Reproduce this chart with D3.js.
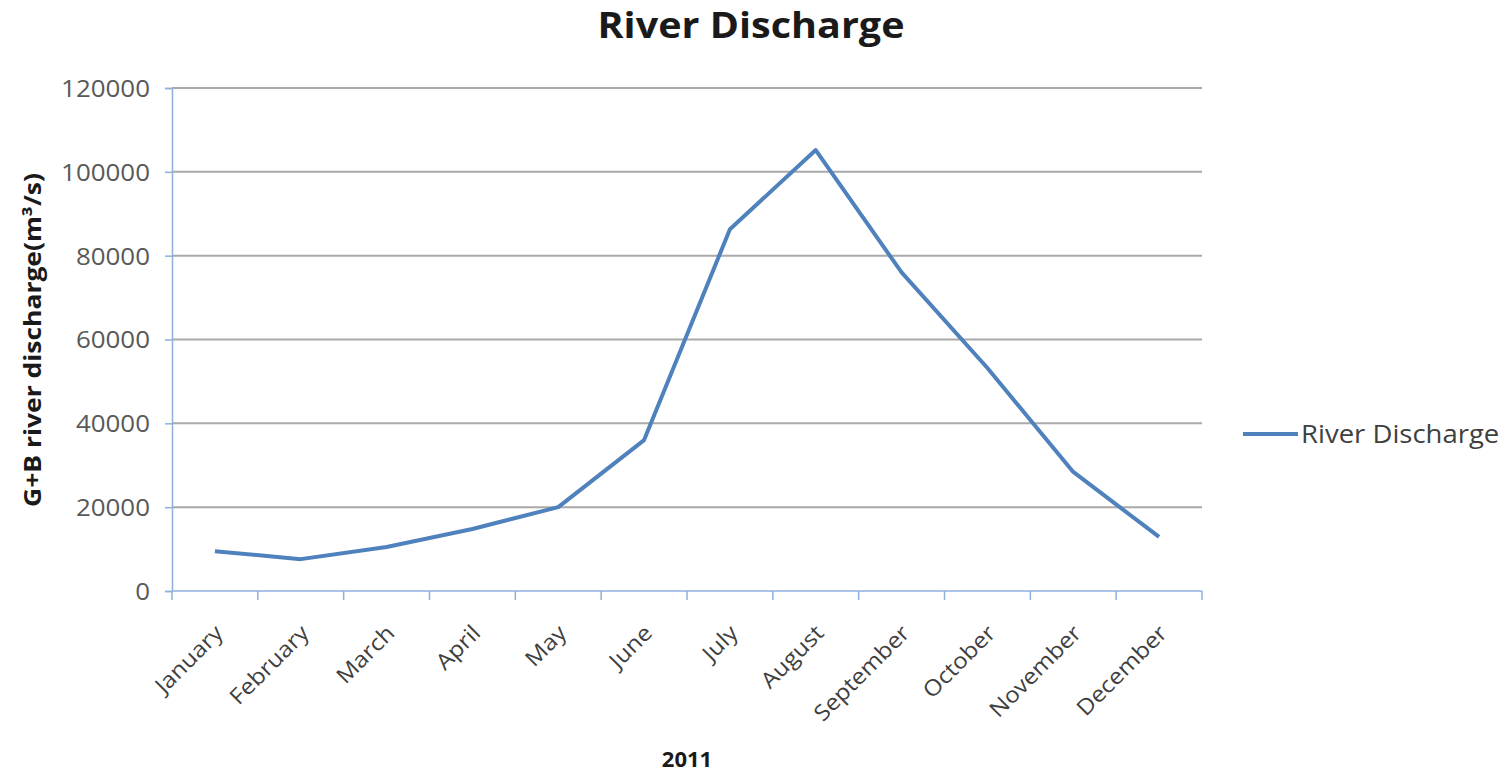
<!DOCTYPE html>
<html>
<head>
<meta charset="utf-8">
<script src="https://cdn.jsdelivr.net/npm/d3@7"></script>
<style>
  html, body { margin: 0; padding: 0; background: #ffffff; }
  svg { display: block; }
  text { font-family: "Open Sans", "Noto Sans", sans-serif; }
</style>
</head>
<body>
<svg id="chart" width="1511" height="772"></svg>
<script>
// Monthly river discharge, 2011 (m³/s)
const months = ["January", "February", "March", "April", "May", "June",
                "July", "August", "September", "October", "November", "December"];
const discharge = [9500, 7600, 10500, 14800, 20000, 36000,
                   86300, 105200, 76000, 53200, 28400, 12900];
const yTicks = [0, 20000, 40000, 60000, 80000, 100000, 120000];
const seriesName = "River Discharge";
const chartTitle = "River Discharge";
const yTitle = "G+B river discharge(m³/s)";
const xTitle = "2011";

const svg = d3.select("#chart");
const plot = { left: 172, right: 1202, top: 88, bottom: 591 };

const x = d3.scaleBand().domain(months).range([plot.left, plot.right]);
const y = d3.scaleLinear().domain([0, 120000]).range([plot.bottom, plot.top]);

const lineColor = "#4f81bd";
const axisColor = "#8eb0dc";
const gridColor = "#a9a9a9";
const labelColor = "#595959";

// horizontal gridlines
svg.append("g")
  .selectAll("line")
  .data(yTicks.filter(d => d > 0))
  .join("line")
  .attr("x1", plot.left).attr("x2", plot.right)
  .attr("y1", d => y(d)).attr("y2", d => y(d))
  .attr("stroke", gridColor).attr("stroke-width", 2);

// y axis
const yAxis = svg.append("g")
  .attr("transform", `translate(${plot.left},0)`)
  .call(d3.axisLeft(y).tickValues(yTicks).tickSize(7).tickPadding(0).tickFormat(d3.format("d")));
yAxis.select(".domain").attr("stroke", axisColor).attr("stroke-width", 1.5);
yAxis.selectAll(".tick line").attr("stroke", axisColor).attr("stroke-width", 1.5);
yAxis.selectAll(".tick text")
  .attr("x", null)
  .attr("transform", "translate(-22,0) scale(1.08,1)")
  .attr("fill", labelColor)
  .style("font-size", "24px")
  .attr("dy", "0.35em");

// x axis: ticks on category boundaries
const xAxisG = svg.append("g").attr("transform", `translate(0,${plot.bottom})`);
xAxisG.append("line")
  .attr("x1", plot.left).attr("x2", plot.right)
  .attr("stroke", axisColor).attr("stroke-width", 1.5);
const boundaries = months.map(m => x(m)).concat([plot.right]);
xAxisG.selectAll("line.tick")
  .data(boundaries)
  .join("line")
  .attr("class", "tick")
  .attr("x1", d => d).attr("x2", d => d)
  .attr("y1", 0).attr("y2", 9)
  .attr("stroke", axisColor).attr("stroke-width", 1.5);
xAxisG.selectAll("text.month")
  .data(months)
  .join("text")
  .attr("class", "month")
  .attr("transform", d => `translate(${x(d) + x.bandwidth() / 2 + 4},${38}) rotate(-45) scale(1.1,1)`)
  .attr("text-anchor", "end")
  .attr("dy", "0.35em")
  .attr("fill", "#404040")
  .style("font-size", "22px")
  .text(d => d);

// data line
const line = d3.line()
  .x((d, i) => x(months[i]) + x.bandwidth() / 2)
  .y(d => y(d));
svg.append("path")
  .datum(discharge)
  .attr("d", line)
  .attr("fill", "none")
  .attr("stroke", lineColor)
  .attr("stroke-width", 4)
  .attr("stroke-linejoin", "round");

// titles
svg.append("text")
  .attr("transform", "translate(751,38) scale(1.13,1)")
  .attr("text-anchor", "middle")
  .style("font-size", "35px").style("font-weight", "bold")
  .attr("fill", "#1a1a1a")
  .text(chartTitle);

svg.append("text")
  .attr("transform", `translate(41,${340}) rotate(-90) scale(1.15,1)`)
  .attr("text-anchor", "middle")
  .style("font-size", "23px").style("font-weight", "bold")
  .attr("fill", "#1a1a1a")
  .text(yTitle);

svg.append("text")
  .attr("transform", "translate(687,767) scale(1.05,1)")
  .attr("text-anchor", "middle")
  .style("font-size", "21px").style("font-weight", "bold")
  .attr("fill", "#1a1a1a")
  .text(xTitle);

// legend
const legend = svg.append("g").attr("transform", "translate(1243,434)");
legend.append("line")
  .attr("x1", 0).attr("x2", 55)
  .attr("stroke", lineColor).attr("stroke-width", 4);
legend.append("text")
  .attr("transform", "translate(58,0) scale(1.1,1)")
  .attr("dy", "0.35em")
  .style("font-size", "25px")
  .attr("fill", "#404040")
  .text(seriesName);
</script>
</body>
</html>
